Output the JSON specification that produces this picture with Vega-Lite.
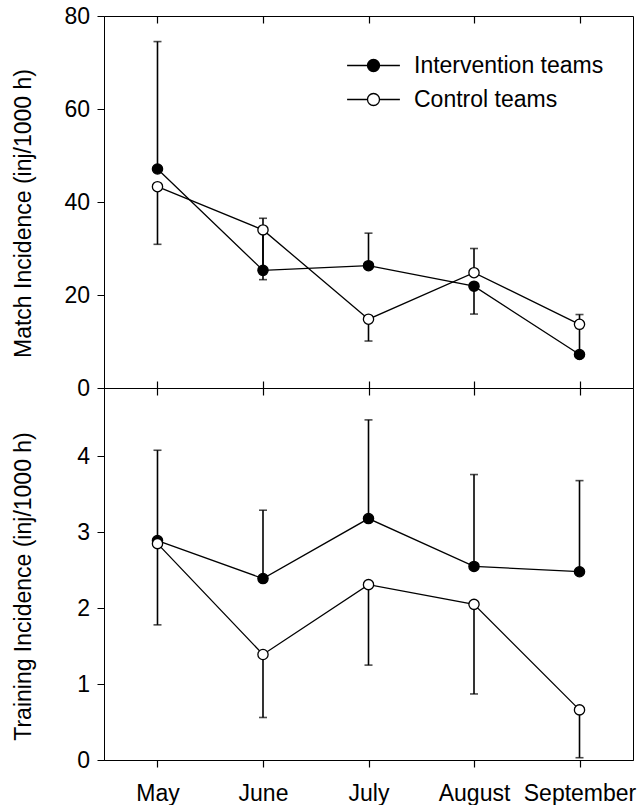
{
  "$schema": "https://vega.github.io/schema/vega-lite/v6.json",
  "padding": {"left": 11, "top": 4, "right": 5, "bottom": 5},
  "background": "white",
  "datasets": {
    "match": [
      {"month": "May", "group": "Intervention teams", "value": 47.1, "err": 74.5},
      {"month": "May", "group": "Control teams", "value": 43.3, "err": 30.9},
      {"month": "June", "group": "Intervention teams", "value": 25.3, "err": 36.5},
      {"month": "June", "group": "Control teams", "value": 34.0, "err": 23.3},
      {"month": "July", "group": "Intervention teams", "value": 26.3, "err": 33.3},
      {"month": "July", "group": "Control teams", "value": 14.8, "err": 10.1},
      {"month": "August", "group": "Intervention teams", "value": 21.9, "err": 15.9},
      {"month": "August", "group": "Control teams", "value": 24.8, "err": 30.0},
      {"month": "September", "group": "Intervention teams", "value": 7.2, "err": 15.8},
      {"month": "September", "group": "Control teams", "value": 13.7, "err": null}
    ],
    "training": [
      {"month": "May", "group": "Intervention teams", "value": 2.89, "err": 4.08},
      {"month": "May", "group": "Control teams", "value": 2.85, "err": 1.78},
      {"month": "June", "group": "Intervention teams", "value": 2.39, "err": 3.29},
      {"month": "June", "group": "Control teams", "value": 1.39, "err": 0.56},
      {"month": "July", "group": "Intervention teams", "value": 3.18, "err": 4.48},
      {"month": "July", "group": "Control teams", "value": 2.31, "err": 1.25},
      {"month": "August", "group": "Intervention teams", "value": 2.55, "err": 3.76},
      {"month": "August", "group": "Control teams", "value": 2.05, "err": 0.87},
      {"month": "September", "group": "Intervention teams", "value": 2.48, "err": 3.68},
      {"month": "September", "group": "Control teams", "value": 0.66, "err": 0.03}
    ]
  },
  "spacing": 0,
  "bounds": "flush",
  "resolve": {"scale": {"fill": "independent"}, "legend": {"fill": "independent"}},
  "vconcat": [
    {
      "width": 529,
      "height": 372,
      "data": {"name": "match"},
      "resolve": {"axis": {"x": "independent"}},
      "layer": [
        {
          "transform": [{"filter": "datum.err != null"}],
          "mark": {"type": "rule", "color": "black", "strokeWidth": 1.6},
          "encoding": {
            "x": {"field": "month", "type": "ordinal", "scale": {"type": "point", "domain": ["May", "June", "July", "August", "September"], "padding": 0.507}, "axis": null},
            "y": {"field": "value", "type": "quantitative", "scale": {"domain": [0, 80], "nice": false, "zero": true}, "title": "Match Incidence (inj/1000 h)",
              "axis": {"values": [0, 20, 40, 60, 80], "format": "d", "tickSize": 7, "labelPadding": 7.5, "minExtent": 40, "maxExtent": 40, "titlePadding": 29, "titleY": 197, "grid": false}},
            "y2": {"field": "err"},
            "detail": {"field": "group"}
          }
        },
        {
          "transform": [{"filter": "datum.err != null"}],
          "mark": {"type": "tick", "color": "black", "thickness": 1.6, "size": 8, "orient": "horizontal"},
          "encoding": {
            "x": {"field": "month", "type": "ordinal", "scale": {"type": "point", "domain": ["May", "June", "July", "August", "September"], "padding": 0.507}, "axis": null},
            "y": {"field": "err", "type": "quantitative", "title": "Match Incidence (inj/1000 h)"}
          }
        },
        {
          "mark": {"type": "line", "color": "black", "strokeWidth": 1.3},
          "encoding": {
            "x": {"field": "month", "type": "ordinal", "scale": {"type": "point", "domain": ["May", "June", "July", "August", "September"], "padding": 0.507},
              "axis": {"orient": "bottom", "offset": -372, "labels": false, "ticks": true, "tickSize": 7, "tickWidth": 1.2, "title": null, "domain": false}},
            "y": {"field": "value", "type": "quantitative", "title": "Match Incidence (inj/1000 h)"},
            "detail": {"field": "group"}
          }
        },
        {
          "mark": {"type": "point", "shape": "circle", "filled": true, "stroke": "black", "strokeWidth": 1.3, "size": 105, "opacity": 1},
          "encoding": {
            "x": {"field": "month", "type": "ordinal", "scale": {"type": "point", "domain": ["May", "June", "July", "August", "September"], "padding": 0.507},
              "axis": {"orient": "top", "offset": -372, "labels": false, "ticks": true, "tickSize": 7, "tickWidth": 1.2, "title": null, "domain": false}},
            "y": {"field": "value", "type": "quantitative", "title": "Match Incidence (inj/1000 h)"},
            "fill": {"field": "group", "type": "nominal",
              "scale": {"domain": ["Intervention teams", "Control teams"], "range": ["black", "white"]},
              "legend": {"title": null, "orient": "none", "legendX": 258, "legendY": 38, "padding": 0,
                "symbolType": "M-4.4,0L-1,0M1,0L4.4,0M-1,0A1,1,0,1,1,1,0A1,1,0,1,1,-1,0Z",
                "symbolSize": 144, "symbolStrokeColor": "black", "symbolStrokeWidth": 1.3,
                "labelFont": "Liberation Sans", "labelFontSize": 23, "labelColor": "black", "labelOffset": 29, "labelLimit": 400, "rowPadding": 10}}
          }
        }
      ]
    },
    {
      "width": 529,
      "height": 372,
      "data": {"name": "training"},
      "resolve": {"axis": {"x": "independent"}},
      "layer": [
        {
          "mark": {"type": "rule", "color": "black", "strokeWidth": 1.6},
          "encoding": {
            "x": {"field": "month", "type": "ordinal", "scale": {"type": "point", "domain": ["May", "June", "July", "August", "September"], "padding": 0.507}, "axis": null},
            "y": {"field": "value", "type": "quantitative", "scale": {"domain": [0, 4.9], "nice": false, "zero": true}, "title": "Training Incidence (inj/1000 h)",
              "axis": {"values": [0, 1, 2, 3, 4], "format": "d", "tickSize": 7, "labelPadding": 7.5, "minExtent": 40, "maxExtent": 40, "titlePadding": 29, "titleY": 198, "grid": false}},
            "y2": {"field": "err"},
            "detail": {"field": "group"}
          }
        },
        {
          "mark": {"type": "tick", "color": "black", "thickness": 1.6, "size": 8, "orient": "horizontal"},
          "encoding": {
            "x": {"field": "month", "type": "ordinal", "scale": {"type": "point", "domain": ["May", "June", "July", "August", "September"], "padding": 0.507}, "axis": null},
            "y": {"field": "err", "type": "quantitative", "title": "Training Incidence (inj/1000 h)"}
          }
        },
        {
          "mark": {"type": "line", "color": "black", "strokeWidth": 1.3},
          "encoding": {
            "x": {"field": "month", "type": "ordinal", "scale": {"type": "point", "domain": ["May", "June", "July", "August", "September"], "padding": 0.507},
              "axis": {"orient": "bottom", "labels": true, "labelAngle": 0, "tickSize": 7, "tickWidth": 1.2, "labelPadding": 15, "title": null, "domain": true}},
            "y": {"field": "value", "type": "quantitative", "title": "Training Incidence (inj/1000 h)"},
            "detail": {"field": "group"}
          }
        },
        {
          "mark": {"type": "point", "shape": "circle", "filled": true, "stroke": "black", "strokeWidth": 1.3, "size": 105, "opacity": 1},
          "encoding": {
            "x": {"field": "month", "type": "ordinal", "scale": {"type": "point", "domain": ["May", "June", "July", "August", "September"], "padding": 0.507},
              "axis": {"orient": "bottom", "offset": -372, "labels": false, "ticks": true, "tickSize": 7, "tickWidth": 1.2, "title": null, "domain": false}},
            "y": {"field": "value", "type": "quantitative", "title": "Training Incidence (inj/1000 h)"},
            "fill": {"field": "group", "type": "nominal",
              "scale": {"domain": ["Intervention teams", "Control teams"], "range": ["black", "white"]},
              "legend": null}
          }
        }
      ]
    }
  ],
  "config": {
    "font": "Liberation Sans",
    "view": {"stroke": "black", "strokeWidth": 1},
    "axis": {"domainColor": "black", "domainWidth": 1, "tickColor": "black", "tickWidth": 1, "labelColor": "black", "titleColor": "black",
      "labelFont": "Liberation Sans", "titleFont": "Liberation Sans", "labelFontSize": 23, "titleFontSize": 23, "titleFontWeight": "normal", "grid": false}
  }
}
